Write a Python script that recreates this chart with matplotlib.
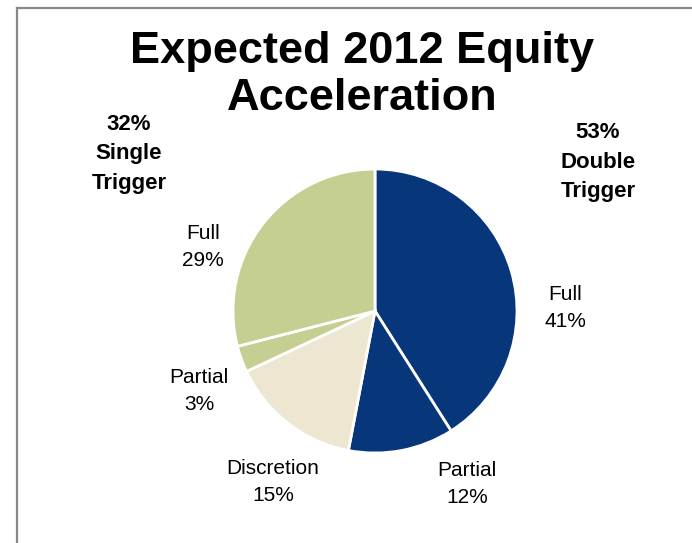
import matplotlib
matplotlib.use("Agg")
import matplotlib.pyplot as plt
from matplotlib.lines import Line2D

plt.rcParams['font.family'] = ['Liberation Sans', 'DejaVu Sans']

# Equity acceleration split, clockwise from 12 o'clock
slice_names = ['Full', 'Partial', 'Discretion', 'Partial', 'Full']
slice_pcts = [41, 12, 15, 3, 29]
slice_colors = ['#07367A', '#07367A', '#EDE6D0', '#C5CF91', '#C5CF91']

# group totals
group_pcts = [53, 32]
group_names = ['Double\nTrigger', 'Single\nTrigger']

W, H = 692, 543
fig = plt.figure(figsize=(W / 100, H / 100), dpi=100)

# pie placement in pixels
cx, cy, r = 375, 311, 142
ax = fig.add_axes([(cx - r) / W, (H - cy - r) / H, 2 * r / W, 2 * r / H])
ax.pie(slice_pcts, colors=slice_colors, startangle=90, counterclock=False,
       radius=1.0, wedgeprops=dict(edgecolor='white', linewidth=2.0))
ax.set_xlim(-1.0, 1.0)
ax.set_ylim(-1.0, 1.0)
ax.set_aspect('equal')
ax.axis('off')

def px(x, y):
    return x / W, 1 - y / H

fig.text(*px(362, 75), 'Expected 2012 Equity\nAcceleration', ha='center', va='center',
         fontsize=32.5, fontweight='bold', linespacing=1.17)

# slice labels (name + percent)
label_xy = [(565, 308), (467, 484), (273, 482), (199, 391), (203, 247)]
for (x, y), name, pct in zip(label_xy, slice_names, slice_pcts):
    fig.text(*px(x, y), f'{name}\n{pct}%', ha='center', va='center',
             fontsize=15, linespacing=1.55)

# group labels
group_xy = [(598, 162), (129, 154)]
for (x, y), name, pct in zip(group_xy, group_names, group_pcts):
    fig.text(*px(x, y), f'{pct}%\n{name}', ha='center', va='center',
             fontsize=16, fontweight='bold', linespacing=1.55)

# frame along top and left
fig.add_artist(Line2D([17 / W, 1], [1 - 8 / H, 1 - 8 / H], color='#888888', lw=1.6))
fig.add_artist(Line2D([17 / W, 17 / W], [0, 1 - 8 / H], color='#888888', lw=1.6))

fig.savefig('out.png', dpi=100)
